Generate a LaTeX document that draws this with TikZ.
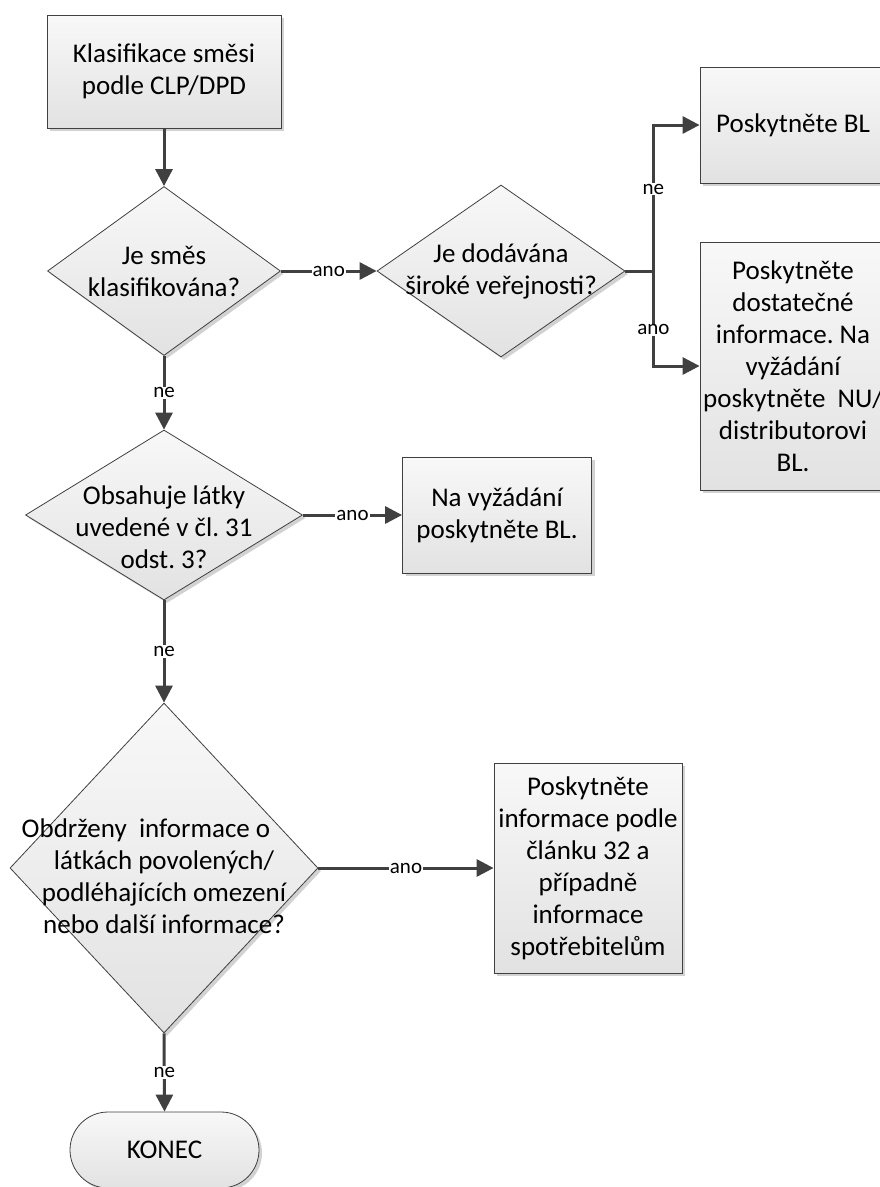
\documentclass[tikz,border=0pt]{standalone}
\usepackage{fontspec}
\setmainfont{Carlito}
\usetikzlibrary{shapes.geometric,arrows.meta,shadows}

\definecolor{edge}{HTML}{404040}
\definecolor{fillTop}{HTML}{F8F8F8}
\definecolor{fillBot}{HTML}{E2E2E2}
\definecolor{shadowgray}{HTML}{D2D2D2}

\newcommand{\boxfont}{\fontsize{27}{32}\selectfont\frenchspacing}
\newcommand{\labfont}{\fontsize{21}{25}\selectfont}

\tikzset{
  shaded shape/.style={draw=edge, line width=0.8pt,
    top color=fillTop, bottom color=fillBot,
    drop shadow={shadow xshift=3pt, shadow yshift=-3pt, fill=shadowgray, opacity=1}},
  stepbox/.style={shaded shape, rectangle, inner sep=0pt, align=center, font=\boxfont},
  decision/.style={shaded shape, diamond, inner sep=0pt},
  question/.style={align=center, font=\boxfont, inner sep=0pt},
  terminal/.style={shaded shape, rectangle, rounded corners=38pt, inner sep=0pt, font=\boxfont},
  conn/.style={draw=edge, line width=3pt, -{Triangle[length=17pt,width=17pt]}},
  lab/.style={fill=white, inner sep=1pt, font=\labfont, text=black}
}

\begin{document}
\begin{tikzpicture}[x=1pt, y=-1pt]
\useasboundingbox (0,0) rectangle (880,1187);

% process boxes
\node[stepbox, minimum width=234pt, minimum height=113pt] (start) at (164,71.5)
  {Klasifikace směsi\\podle CLP/DPD};
\node[stepbox, minimum width=186pt, minimum height=116pt] (giveBL) at (793,125)
  {Poskytněte BL};
\node[stepbox, minimum width=186pt, minimum height=248pt] (giveInfo) at (793,366)
  {Poskytněte\\dostatečné\\informace. Na\\vyžádání\\poskytněte\ \ NU/\\distributorovi\\BL.};
\node[stepbox, minimum width=189pt, minimum height=116pt] (onRequest) at (497,515)
  {Na vyžádání\\poskytněte BL.};
\node[stepbox, minimum width=188pt, minimum height=210pt] (art32) at (588,868)
  {Poskytněte\\informace podle\\článku 32 a\\případně\\informace\\spotřebitelům};

% decisions
\node[decision, minimum width=233pt, minimum height=169pt] (classified) at (164,271) {};
\node[question] (classifiedTxt) at (classified) {Je směs\\klasifikována?};

\node[decision, minimum width=248pt, minimum height=172pt] (public) at (501,271) {};
\node[question] (publicTxt) at (public) {Je dodávána\\široké veřejnosti?};

\node[decision, minimum width=277pt, minimum height=170pt] (art31) at (164,515) {};
\node[question, yshift=-12pt] (art31Txt) at (art31) {Obsahuje látky\\uvedené v čl. 31\\odst. 3?};

\node[decision, minimum width=308pt, minimum height=330pt] (received) at (164,868) {};
\node[question, yshift=-8pt] (receivedTxt) at (received)
  {Obdrženy\ \ informace o\hspace*{36pt}\\látkách povolených/\\podléhajících omezení\\nebo další informace?};

% end
\node[terminal, minimum width=189pt, minimum height=76pt] (finish) at (164.5,1150) {KONEC};

% connectors
\draw[conn] (start.south) -- (classified.north);
\draw[conn] (classified.east) -- node[lab]{ano} (public.west);
\draw[conn] (public.east) -- ++(28,0) |- node[lab, pos=0.28]{ne} (giveBL.west);
\draw[conn] (public.east) -- ++(28,0) |- node[lab, pos=0.31]{ano} (giveInfo.west);
\draw[conn] (classified.south) -- node[lab]{ne} (art31.north);
\draw[conn] (art31.east) -- node[lab]{ano} (onRequest.west);
\draw[conn] (art31.south) -- node[lab]{ne} (received.north);
\draw[conn] (received.east) -- node[lab]{ano} (art32.west);
\draw[conn] (received.south) -- node[lab]{ne} (finish.north);
\end{tikzpicture}
\end{document}
